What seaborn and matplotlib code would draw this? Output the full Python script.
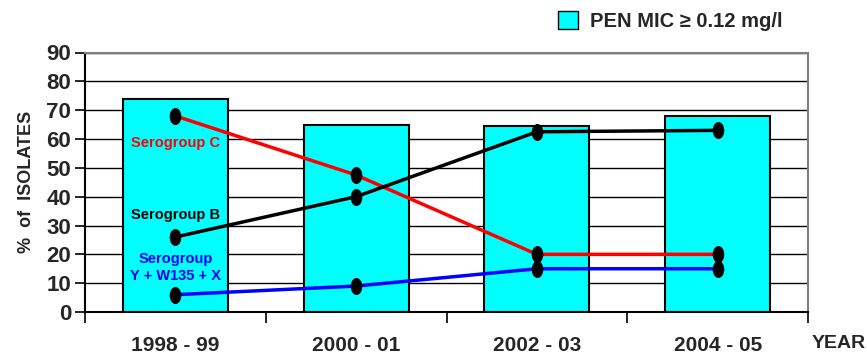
import numpy as np
import pandas as pd
import matplotlib
matplotlib.use("Agg")
import matplotlib.pyplot as plt
from matplotlib.path import Path
from matplotlib.transforms import Affine2D
from matplotlib.patches import Patch
import seaborn as sns

# Data
years = ["1998 - 99", "2000 - 01", "2002 - 03", "2004 - 05"]
pen_mic = [74, 65, 64.5, 68]
serogroup_c = [68, 47.5, 20, 20]
serogroup_b = [26, 40, 62.5, 63]
serogroup_ywx = [6, 9, 15, 15]
y_ticks = [0, 10, 20, 30, 40, 50, 60, 70, 80, 90]

sns.set_theme(style="white")
plt.rcParams["font.family"] = ["Liberation Sans", "DejaVu Sans"]

fig = plt.figure(figsize=(8.67, 3.54), dpi=100)
ax = fig.add_axes([85 / 867, 1 - 312 / 354, (808 - 85) / 867, (312 - 52.5) / 354])

bars = pd.DataFrame({"year": years, "pct": pen_mic})
sns.barplot(data=bars, x="year", y="pct", color="#00FFFF", saturation=1,
            width=0.58, edgecolor="black", linewidth=1.5, ax=ax, zorder=2)

# vertically elongated dot marker
ellipse = Path.unit_circle().transformed(Affine2D().scale(0.66, 1.0))

lines = pd.DataFrame({
    "year": years * 3,
    "pct": serogroup_c + serogroup_b + serogroup_ywx,
    "group": ["C"] * 4 + ["B"] * 4 + ["YWX"] * 4,
})
palette = {"C": "#FF0000", "B": "#000000", "YWX": "#0000FF"}
for grp in ["YWX", "C", "B"]:
    sub = lines[lines["group"] == grp]
    xs = [years.index(y) for y in sub["year"]]
    sns.lineplot(x=xs, y=sub["pct"].values, color=palette[grp], linewidth=2.5,
                 marker=ellipse, markersize=11.5, markerfacecolor="black",
                 markeredgecolor="black", ax=ax, zorder=4, legend=False)

ax.set_xlim(-0.5, 3.5)
ax.set_ylim(0, 90)
ax.set_yticks(y_ticks)
ax.set_yticklabels([str(t) for t in y_ticks], fontsize=16, fontweight="bold")
ax.set_xticks([-0.5, 0.5, 1.5, 2.5, 3.5])
ax.set_xticklabels([])
ax.set_xticks(range(4), minor=True)
ax.set_xticklabels(years, minor=True, fontsize=15, fontweight="bold")
ax.tick_params(axis="x", which="major", direction="out", length=8, width=1.2,
               color="black", bottom=True)
ax.tick_params(axis="x", which="minor", length=0, pad=17)
ax.tick_params(axis="y", direction="out", length=7, width=1.2, color="black",
               left=True, pad=3)
ax.set_xlabel("")
ax.set_ylabel("%  of  ISOLATES", fontsize=13, fontweight="bold", labelpad=8)

ax.yaxis.grid(True, color="black", linewidth=1.0, zorder=0)
ax.set_axisbelow(True)
for side in ["left", "bottom"]:
    ax.spines[side].set_color("black")
    ax.spines[side].set_linewidth(1.5)
for side in ["top", "right"]:
    ax.spines[side].set_color("#808080")
    ax.spines[side].set_linewidth(1.5)
    ax.spines[side].set_visible(True)

# series labels
ax.text(0, 58.6, "Serogroup C", color="#FF0000", fontsize=10.5,
        fontweight="bold", ha="center", va="center", zorder=5)
ax.text(0, 33.7, "Serogroup B", color="black", fontsize=10.5,
        fontweight="bold", ha="center", va="center", zorder=5)
ax.text(0, 15.5, "Serogroup\nY + W135 + X", color="#0000FF", fontsize=10.5,
        fontweight="bold", ha="center", va="center", linespacing=1.3, zorder=5)

fig.text(812 / 867, 1 - 343 / 354, "YEAR", fontsize=14, fontweight="bold",
         ha="left", va="center")

fig.legend(handles=[Patch(facecolor="#00FFFF", edgecolor="black", linewidth=1)],
           labels=["PEN MIC \u2265 0.12 mg/l"], loc="center left",
           bbox_to_anchor=(540 / 867, 1 - 21 / 354), frameon=False,
           prop={"size": 14.5, "weight": "bold"}, handlelength=1.0,
           handleheight=1.0, handletextpad=0.6)

fig.savefig("out.png", dpi=100)
